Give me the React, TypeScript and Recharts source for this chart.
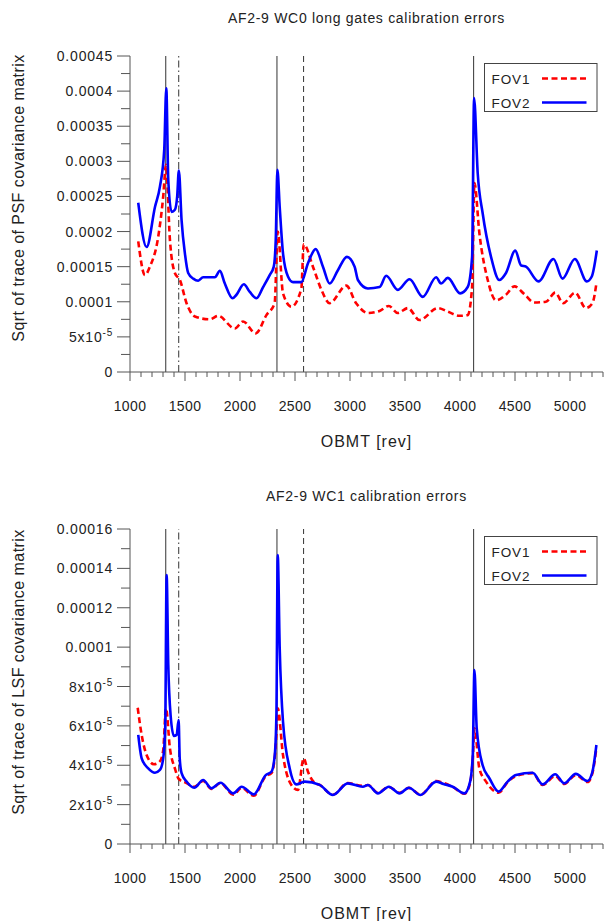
import React from "react";
import { LineChart, Line, XAxis, YAxis, ReferenceLine } from "recharts";

const FONT = '"Liberation Sans", Arial, Helvetica, sans-serif';
const FRAME = "#555";
const TEXT = "#222";

type Pt = [number, number];

// ---- X axis ----
const xDomain: [number, number] = [1000, 5300];
const xMajorTicks = [1000, 1500, 2000, 2500, 3000, 3500, 4000, 4500, 5000];
const xMajorLabels = ["1000", "1500", "2000", "2500", "3000", "3500", "4000", "4500", "5000"];
const xMinorStep = 100;

// ---- vertical event markers ----
const markerX = [1325, 1443, 2336, 2578, 4124];
const markerDash = ["", "7 3 1.5 3", "", "6 4", ""];

// ---- series names / colours ----
const seriesNames = ["FOV1", "FOV2"];
const seriesColors = ["#ff0000", "#0000ff"];

// ---- panel titles ----
const titles = ["AF2-9 WC0 long gates calibration errors", "AF2-9 WC1 calibration errors"];
const yTitles = ["Sqrt of trace of PSF covariance matrix", "Sqrt of trace of LSF covariance matrix"];
const xTitle = "OBMT [rev]";

// ---- Y ticks ----
const wc0YMax = 0.00045;
const wc0YStep = 0.000025;
const wc0YLabels = ["0", "5x10^-5", "0.0001", "0.00015", "0.0002", "0.00025", "0.0003", "0.00035", "0.0004", "0.00045"];
const wc1YMax = 0.00016;
const wc1YStep = 0.00001;
const wc1YLabels = ["0", "2x10^-5", "4x10^-5", "6x10^-5", "8x10^-5", "0.0001", "0.00012", "0.00014", "0.00016"];

// ---- WC0 data ----
const wc0Fov1: Pt[] = [
  [1075, 1.86e-4], [1136, 1.38e-4], [1181, 1.5e-4], [1257, 1.93e-4], [1302, 2.5e-4], [1327, 2.95e-4],
  [1363, 1.88e-4], [1408, 1.41e-4], [1454, 1.31e-4], [1514, 0.98e-4], [1590, 0.79e-4], [1726, 0.75e-4],
  [1801, 0.8e-4], [1953, 0.62e-4], [2028, 0.72e-4], [2143, 0.55e-4], [2240, 0.81e-4], [2315, 0.98e-4],
  [2343, 2.0e-4], [2391, 1.12e-4], [2467, 0.93e-4], [2558, 1.19e-4], [2579, 1.82e-4], [2663, 1.5e-4],
  [2740, 1.17e-4], [2815, 0.98e-4], [2966, 1.23e-4], [3056, 0.98e-4], [3163, 0.84e-4], [3269, 0.87e-4],
  [3353, 0.94e-4], [3435, 0.84e-4], [3526, 0.91e-4], [3632, 0.74e-4], [3798, 0.91e-4], [3889, 0.86e-4],
  [3995, 0.8e-4], [4070, 0.81e-4], [4110, 1.21e-4], [4131, 2.69e-4], [4176, 1.98e-4], [4252, 1.31e-4],
  [4328, 1.02e-4], [4418, 1.1e-4], [4494, 1.22e-4], [4584, 1.11e-4], [4675, 0.99e-4], [4781, 1.0e-4],
  [4866, 1.13e-4], [4938, 0.98e-4], [5047, 1.13e-4], [5144, 0.91e-4], [5204, 0.98e-4], [5240, 1.26e-4],
];
const wc0Fov2: Pt[] = [
  [1075, 2.41e-4], [1151, 1.78e-4], [1227, 2.35e-4], [1272, 2.64e-4], [1311, 3.16e-4], [1330, 4.04e-4],
  [1348, 2.73e-4], [1378, 2.28e-4], [1408, 2.31e-4], [1429, 2.5e-4], [1444, 2.87e-4], [1469, 2.16e-4],
  [1499, 1.69e-4], [1529, 1.41e-4], [1575, 1.33e-4], [1620, 1.3e-4], [1665, 1.35e-4], [1726, 1.35e-4],
  [1771, 1.35e-4], [1817, 1.44e-4], [1862, 1.26e-4], [1932, 1.05e-4], [1968, 1.1e-4], [2035, 1.25e-4],
  [2089, 1.14e-4], [2150, 1.05e-4], [2210, 1.21e-4], [2270, 1.38e-4], [2307, 1.5e-4], [2325, 1.88e-4],
  [2340, 2.88e-4], [2361, 2.35e-4], [2391, 1.69e-4], [2436, 1.36e-4], [2482, 1.28e-4], [2557, 1.28e-4],
  [2618, 1.55e-4], [2688, 1.75e-4], [2754, 1.5e-4], [2815, 1.26e-4], [2890, 1.45e-4], [2972, 1.64e-4],
  [3042, 1.5e-4], [3072, 1.31e-4], [3163, 1.19e-4], [3269, 1.21e-4], [3329, 1.37e-4], [3435, 1.17e-4],
  [3541, 1.32e-4], [3662, 1.07e-4], [3783, 1.35e-4], [3828, 1.26e-4], [3889, 1.34e-4], [4001, 1.12e-4],
  [4070, 1.21e-4], [4110, 1.64e-4], [4128, 3.9e-4], [4161, 2.83e-4], [4206, 2.26e-4], [4282, 1.64e-4],
  [4358, 1.31e-4], [4418, 1.41e-4], [4503, 1.73e-4], [4554, 1.52e-4], [4600, 1.5e-4], [4714, 1.29e-4],
  [4850, 1.61e-4], [4932, 1.33e-4], [5044, 1.61e-4], [5153, 1.29e-4], [5198, 1.36e-4], [5244, 1.73e-4],
];

// ---- WC1 data ----
const wc1Fov1: Pt[] = [
  [1070, 6.92e-5], [1106, 5.54e-5], [1151, 4.52e-5], [1218, 4.05e-5], [1272, 4.2e-5], [1302, 4.77e-5],
  [1327, 6.89e-5], [1363, 4.86e-5], [1408, 3.84e-5], [1444, 3.3e-5], [1514, 3.1e-5], [1584, 2.9e-5],
  [1665, 3.2e-5], [1741, 2.8e-5], [1823, 3.1e-5], [1938, 2.5e-5], [2014, 2.85e-5], [2125, 2.45e-5],
  [2234, 3.45e-5], [2286, 3.6e-5], [2316, 4.4e-5], [2330, 5.5e-5], [2343, 6.89e-5], [2391, 4.52e-5],
  [2467, 3.0e-5], [2527, 2.74e-5], [2579, 4.35e-5], [2618, 3.67e-5], [2680, 3.1e-5], [2724, 3.0e-5],
  [2845, 2.5e-5], [2980, 3.1e-5], [3117, 2.95e-5], [3163, 3.0e-5], [3254, 2.6e-5], [3353, 2.9e-5],
  [3450, 2.6e-5], [3535, 2.85e-5], [3641, 2.5e-5], [3783, 3.2e-5], [3850, 3.1e-5], [3934, 2.9e-5],
  [4040, 2.55e-5], [4092, 3.1e-5], [4116, 4.3e-5], [4131, 5.88e-5], [4176, 3.84e-5], [4237, 3.17e-5],
  [4351, 2.6e-5], [4433, 3.15e-5], [4509, 3.45e-5], [4660, 3.6e-5], [4751, 3.0e-5], [4866, 3.45e-5],
  [4947, 3.05e-5], [5053, 3.5e-5], [5159, 3.15e-5], [5204, 3.6e-5], [5240, 4.9e-5],
];
const wc1Fov2: Pt[] = [
  [1075, 5.54e-5], [1106, 4.35e-5], [1166, 3.84e-5], [1227, 3.62e-5], [1272, 3.76e-5], [1302, 4.35e-5],
  [1320, 5.9e-5], [1333, 13.66e-5], [1348, 9.1e-5], [1369, 6.55e-5], [1399, 5.49e-5], [1424, 5.54e-5],
  [1442, 6.3e-5], [1452, 4.35e-5], [1469, 3.6e-5], [1514, 3.17e-5], [1584, 2.86e-5], [1665, 3.25e-5],
  [1741, 2.83e-5], [1823, 3.11e-5], [1938, 2.57e-5], [2014, 2.91e-5], [2125, 2.52e-5], [2234, 3.5e-5],
  [2286, 3.67e-5], [2316, 4.52e-5], [2331, 6.55e-5], [2343, 14.68e-5], [2361, 9.94e-5], [2391, 6.21e-5],
  [2452, 3.84e-5], [2512, 3.03e-5], [2588, 3.17e-5], [2724, 3.0e-5], [2845, 2.49e-5], [2980, 3.08e-5],
  [3117, 2.91e-5], [3163, 3.0e-5], [3254, 2.57e-5], [3353, 2.91e-5], [3450, 2.57e-5], [3535, 2.86e-5],
  [3641, 2.49e-5], [3783, 3.17e-5], [3850, 3.05e-5], [3934, 2.91e-5], [4040, 2.57e-5], [4092, 3.17e-5],
  [4116, 4.52e-5], [4131, 8.84e-5], [4152, 5.88e-5], [4206, 4.0e-5], [4267, 3.34e-5], [4351, 2.66e-5],
  [4433, 3.17e-5], [4509, 3.5e-5], [4660, 3.62e-5], [4751, 3.03e-5], [4866, 3.54e-5], [4947, 3.08e-5],
  [5053, 3.56e-5], [5159, 3.2e-5], [5204, 3.67e-5], [5240, 5.03e-5],
];

const toRows = (pts: Pt[]) => pts.map(([x, v]) => ({ x, v }));

const xAllTicks: number[] = [];
for (let t = xDomain[0]; t <= xDomain[1]; t += xMinorStep) xAllTicks.push(t);

const XTick = (props: any) => {
  const { x, y, payload } = props;
  const idx = xMajorTicks.indexOf(payload.value);
  const major = idx >= 0;
  return (
    <g>
      <line x1={x} x2={x} y1={y} y2={y + (major ? 9 : 5)} stroke={FRAME} strokeWidth={1} />
      {major && (
        <text x={x} y={y + 38.7} textAnchor="middle" fontFamily={FONT} fontSize={14} fill={TEXT} letterSpacing={0.4}>
          {xMajorLabels[idx]}
        </text>
      )}
    </g>
  );
};

const makeYTick = (step: number, labels: string[]) => (props: any) => {
  const { x, y, payload } = props;
  const i = Math.round(payload.value / step);
  const major = i % 2 === 0;
  const lab = major ? labels[i / 2] : null;
  let content: React.ReactNode = null;
  if (lab) {
    const parts = lab.split("^");
    content =
      parts.length === 2 ? (
        <>
          <tspan>{parts[0]}</tspan>
          <tspan dy={-6} fontSize={10}>{parts[1]}</tspan>
        </>
      ) : (
        lab
      );
  }
  return (
    <g>
      <line x1={x} x2={x - (major ? 13 : 9)} y1={y} y2={y} stroke={FRAME} strokeWidth={1} />
      {lab && (
        <text x={x - 17} y={y + 5} textAnchor="end" fontFamily={FONT} fontSize={14} fill={TEXT} letterSpacing={0.8}>
          {content}
        </text>
      )}
    </g>
  );
};

type PanelProps = {
  top: number;
  height: number;
  bottomMargin: number;
  yMax: number;
  yStep: number;
  yLabels: string[];
  fov1: Pt[];
  fov2: Pt[];
  title: string;
  yTitle: string;
  titleY: number;
  yTitleY: number;
};

function Panel(p: PanelProps) {
  const W = 605;
  const marginTop = 56;
  const xAxisH = 30;
  const plotBottom = p.height - p.bottomMargin - xAxisH;
  const plotRight = W - 2;
  const n = Math.round(p.yMax / p.yStep);
  const yTicks = Array.from({ length: n + 1 }, (_, i) => Number((i * p.yStep).toPrecision(6)));
  const YTick = makeYTick(p.yStep, p.yLabels);
  const legendTop = marginTop + 7.5;
  const legendLeft = 484.5;
  return (
    <div style={{ position: "absolute", left: 0, top: p.top, width: W, height: p.height }}>
      <LineChart width={W} height={p.height} margin={{ top: marginTop, right: 2, bottom: p.bottomMargin, left: 0 }}>
        <XAxis
          xAxisId={0}
          type="number"
          dataKey="x"
          domain={xDomain}
          ticks={xAllTicks}
          interval={0}
          tickSize={0}
          tickMargin={0}
          tickLine={false}
          tick={(tp: any) => <XTick {...tp} />}
          axisLine={{ stroke: FRAME, strokeWidth: 1 }}
          height={xAxisH}
          allowDataOverflow
        />
        <XAxis
          xAxisId="top"
          orientation="top"
          type="number"
          dataKey="x"
          domain={xDomain}
          tick={false}
          tickLine={false}
          axisLine={{ stroke: FRAME, strokeWidth: 1 }}
          height={0}
          allowDataOverflow
        />
        <YAxis
          yAxisId={0}
          type="number"
          domain={[0, p.yMax]}
          ticks={yTicks}
          interval={0}
          width={130}
          tickSize={0}
          tickMargin={0}
          tickLine={false}
          tick={(tp: any) => <YTick {...tp} />}
          axisLine={{ stroke: FRAME, strokeWidth: 1 }}
          allowDataOverflow
        />
        <YAxis
          yAxisId="right"
          orientation="right"
          type="number"
          domain={[0, p.yMax]}
          tick={false}
          tickLine={false}
          width={0}
          axisLine={{ stroke: FRAME, strokeWidth: 1 }}
          allowDataOverflow
        />
        {markerX.map((mx, i) => (
          <ReferenceLine
            key={i}
            x={mx}
            stroke="#333"
            strokeWidth={1}
            strokeDasharray={markerDash[i] || undefined}
          />
        ))}
        <Line
          data={toRows(p.fov1)}
          dataKey="v"
          name={seriesNames[0]}
          type="monotone"
          stroke={seriesColors[0]}
          strokeWidth={2.6}
          strokeDasharray="6 3.5"
          dot={false}
          activeDot={false}
          isAnimationActive={false}
        />
        <Line
          data={toRows(p.fov2)}
          dataKey="v"
          name={seriesNames[1]}
          type="monotone"
          stroke={seriesColors[1]}
          strokeWidth={2.6}
          dot={false}
          activeDot={false}
          isAnimationActive={false}
        />
      </LineChart>
      <svg
        width={W}
        height={p.height}
        style={{ position: "absolute", left: 0, top: 0, pointerEvents: "none" }}
      >
        <text x={366.5} y={p.titleY} textAnchor="middle" fontFamily={FONT} fontSize={14} fill={TEXT} letterSpacing={0.7}>
          {p.title}
        </text>
        <text
          x={23.5}
          y={p.yTitleY}
          transform={`rotate(-90 23.5 ${p.yTitleY})`}
          textAnchor="middle"
          fontFamily={FONT}
          fontSize={16}
          fill={TEXT}
          letterSpacing={0.45}
        >
          {p.yTitle}
        </text>
        <text x={(130 + plotRight) / 2} y={plotBottom + 75} textAnchor="middle" fontFamily={FONT} fontSize={16} fill={TEXT} letterSpacing={1}>
          {xTitle}
        </text>
        <rect x={legendLeft} y={legendTop} width={112.5} height={48} fill="#fff" stroke="#444" strokeWidth={1} />
        {seriesNames.map((nm, i) => (
          <g key={nm}>
            <text
              x={legendLeft + 7}
              y={legendTop + 20 + i * 24}
              fontFamily={FONT}
              fontSize={13.5}
              fill={TEXT}
              letterSpacing={0.9}
            >
              {nm}
            </text>
            <line
              x1={legendLeft + 57.5}
              x2={legendLeft + 102}
              y1={legendTop + 15 + i * 24}
              y2={legendTop + 15 + i * 24}
              stroke={seriesColors[i]}
              strokeWidth={2.6}
              strokeDasharray={i === 0 ? "6 3.5" : undefined}
            />
          </g>
        ))}
      </svg>
    </div>
  );
}

export default function App() {
  return (
    <div style={{ position: "absolute", left: 0, top: 0, width: 605, height: 921, background: "#fff" }}>
      <Panel
        top={0}
        height={473}
        bottomMargin={71}
        yMax={wc0YMax}
        yStep={wc0YStep}
        yLabels={wc0YLabels}
        fov1={wc0Fov1}
        fov2={wc0Fov2}
        title={titles[0]}
        yTitle={yTitles[0]}
        titleY={22.7}
        yTitleY={198}
      />
      <Panel
        top={473}
        height={448}
        bottomMargin={47}
        yMax={wc1YMax}
        yStep={wc1YStep}
        yLabels={wc1YLabels}
        fov1={wc1Fov1}
        fov2={wc1Fov2}
        title={titles[1]}
        yTitle={yTitles[1]}
        titleY={27.5}
        yTitleY={199}
      />
    </div>
  );
}
